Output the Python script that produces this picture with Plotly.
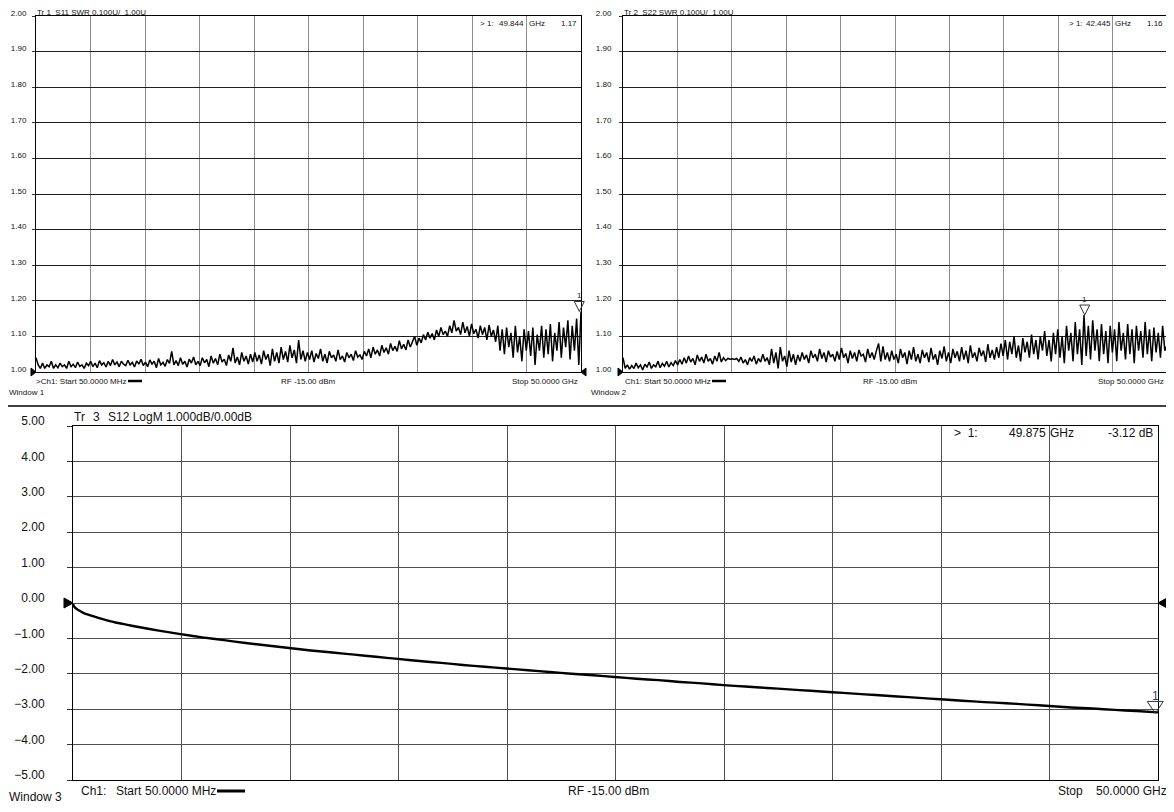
import plotly.graph_objects as go

W, H = 1174, 812          # browser window
OX, OY = 8, 8             # default page (body) margin in front of the figure
FW, FH = W - OX, H - 2 * OY   # figure fits inside the window without scrolling
START_GHZ, STOP_GHZ = 0.05, 50.0

# ---- data ----
s11_swr = [
    1.04, 1.02, 1.01, 1.025, 1.01, 1.02, 1.015, 1.03, 1.01, 1.02, 1.012, 1.025, 1.015, 1.02, 1.01, 1.03, 1.015, 1.022, 1.012, 1.028, 1.016, 1.02, 1.01, 1.025, 1.018,
    1.03, 1.015, 1.025, 1.012, 1.032, 1.02, 1.026, 1.014, 1.03, 1.018, 1.035, 1.02, 1.028, 1.015, 1.03, 1.022, 1.018, 1.033, 1.02, 1.027, 1.014, 1.031, 1.022, 1.036, 1.018,
    1.028, 1.015, 1.034, 1.022, 1.03, 1.012, 1.038, 1.02, 1.027, 1.016, 1.035, 1.024, 1.058, 1.02, 1.032, 1.018, 1.04, 1.022, 1.03, 1.014, 1.036, 1.025, 1.042, 1.02, 1.03,
    1.018, 1.04, 1.026, 1.035, 1.015, 1.045, 1.025, 1.038, 1.02, 1.05, 1.028, 1.036, 1.018, 1.048, 1.03, 1.068, 1.025, 1.042, 1.02, 1.055, 1.03, 1.045, 1.022, 1.05, 1.028,
    1.055, 1.03, 1.048, 1.022, 1.06, 1.035, 1.05, 1.018, 1.065, 1.03, 1.055, 1.025, 1.07, 1.035, 1.058, 1.028, 1.075, 1.04, 1.062, 1.025, 1.09, 1.035, 1.06, 1.03, 1.055,
    1.035, 1.06, 1.028, 1.052, 1.038, 1.065, 1.03, 1.05, 1.025, 1.058, 1.04, 1.048, 1.03, 1.062, 1.035, 1.045, 1.028, 1.055, 1.04, 1.05, 1.032, 1.06, 1.042, 1.048, 1.035,
    1.058, 1.045, 1.065, 1.04, 1.07, 1.05, 1.062, 1.045, 1.075, 1.055, 1.068, 1.05, 1.08, 1.06, 1.072, 1.058, 1.088, 1.065, 1.078, 1.062,
    1.09, 1.07, 1.085, 1.1, 1.075, 1.095, 1.082, 1.105, 1.09, 1.112, 1.095, 1.108, 1.09, 1.118, 1.1, 1.125, 1.105, 1.115, 1.1, 1.13,
    1.11, 1.145, 1.115, 1.125, 1.105, 1.14, 1.11, 1.128, 1.1, 1.135, 1.108, 1.12, 1.095, 1.13, 1.105, 1.125, 1.09, 1.132, 1.1, 1.118,
    1.085, 1.13, 1.06, 1.12, 1.05, 1.125, 1.07, 1.11, 1.04, 1.13, 1.055, 1.1, 1.03, 1.12, 1.06, 1.115, 1.045, 1.125, 1.02, 1.105,
    1.06, 1.13, 1.04, 1.12, 1.05, 1.135, 1.03, 1.11, 1.06, 1.14, 1.04, 1.125, 1.07, 1.145, 1.035, 1.13, 1.06, 1.15, 1.02, 1.17,
]

s22_swr = [
    1.04, 1.01, 1.02, 1.008, 1.018, 1.01, 1.025, 1.012, 1.02, 1.006, 1.022, 1.014, 1.028, 1.01, 1.02, 1.015, 1.03, 1.012, 1.024, 1.016, 1.03, 1.014, 1.026, 1.018, 1.032, 1.02,
    1.035, 1.022, 1.04, 1.025, 1.045, 1.028, 1.038, 1.02, 1.048, 1.03, 1.042, 1.025, 1.05, 1.03, 1.038, 1.022, 1.045, 1.03, 1.055, 1.028, 1.04, 1.032, 1.038,
    1.036, 1.037, 1.035, 1.038, 1.03, 1.042, 1.025, 1.035, 1.02, 1.04, 1.03, 1.045, 1.022, 1.038, 1.028, 1.05, 1.03, 1.04,
    1.02, 1.065, 1.025, 1.055, 1.01, 1.07, 1.03, 1.045, 1.015, 1.06, 1.028, 1.05, 1.02, 1.048,
    1.03, 1.055, 1.035, 1.048, 1.025, 1.06, 1.04, 1.05, 1.03, 1.065, 1.038, 1.055, 1.028, 1.06, 1.042, 1.05, 1.03, 1.058,
    1.035, 1.068, 1.04, 1.052, 1.025, 1.06, 1.038, 1.055, 1.03, 1.062, 1.045, 1.05, 1.028, 1.065, 1.04, 1.055, 1.035, 1.06,
    1.08, 1.03, 1.072, 1.035,
    1.055, 1.03, 1.06, 1.035, 1.05, 1.025, 1.065, 1.04, 1.055, 1.022, 1.06, 1.035, 1.07, 1.03, 1.05, 1.025, 1.062,
    1.04, 1.055, 1.028, 1.068, 1.035, 1.05, 1.02, 1.06, 1.038, 1.072, 1.03, 1.055, 1.025, 1.065, 1.04, 1.058, 1.03,
    1.07, 1.035, 1.06, 1.025, 1.075, 1.04, 1.055, 1.03, 1.068, 1.045, 1.06, 1.028, 1.078, 1.04, 1.062, 1.035, 1.07,
    1.04, 1.08, 1.045, 1.09, 1.035, 1.085, 1.05, 1.1, 1.04, 1.075, 1.03, 1.095, 1.055, 1.085, 1.04, 1.105, 1.05, 1.09, 1.035, 1.1, 1.06, 1.115, 1.045, 1.09, 1.03, 1.11,
    1.05, 1.12, 1.04, 1.1, 1.025, 1.13, 1.06, 1.11, 1.03, 1.14, 1.05, 1.12, 1.02, 1.16, 1.045, 1.13, 1.035, 1.145, 1.06, 1.12, 1.03, 1.135, 1.05, 1.115, 1.025,
    1.13, 1.055, 1.12, 1.03, 1.14, 1.06, 1.11, 1.035, 1.135, 1.05, 1.12, 1.025, 1.13, 1.06, 1.115, 1.04, 1.14, 1.05, 1.12, 1.03, 1.125, 1.055, 1.11, 1.04, 1.13, 1.06, 1.075,
]

s12_freq_ghz = [0.05, 0.1, 0.2, 0.35, 0.5, 0.75, 1.0, 1.5, 2.0, 2.5, 3.0, 4.0, 5.0, 6.0, 7.0, 8.0, 9.0,
                10, 11, 12, 13, 14, 15, 16, 17, 18, 19, 20, 21, 22, 23, 24, 25, 26, 27, 28, 29, 30,
                31, 32, 33, 34, 35, 36, 37, 38, 39, 40, 41, 42, 43, 44, 45, 46, 47, 48, 49, 50]
s12_db = [-0.02, -0.10, -0.16, -0.22, -0.27, -0.33, -0.38, -0.47, -0.55, -0.61, -0.67, -0.78, -0.88, -0.97, -1.05, -1.13, -1.20,
          -1.27, -1.34, -1.40, -1.46, -1.52, -1.58, -1.64, -1.69, -1.75, -1.80, -1.85, -1.90, -1.95, -2.00, -2.04, -2.09, -2.14, -2.18, -2.23, -2.27, -2.32,
          -2.36, -2.40, -2.44, -2.48, -2.52, -2.56, -2.60, -2.64, -2.68, -2.72, -2.76, -2.80, -2.83, -2.87, -2.91, -2.95, -2.98, -3.02, -3.05, -3.09]

swr_ticks = [1.0, 1.1, 1.2, 1.3, 1.4, 1.5, 1.6, 1.7, 1.8, 1.9, 2.0]
db_ticks = [-5, -4, -3, -2, -1, 0, 1, 2, 3, 4, 5]

marker1 = (49.844, 1.17)
marker2 = (42.445, 1.16)
marker3 = (49.875, -3.12)

REG = "Liberation Sans, Arial, sans-serif"
NB = "\u00a0"


def sweep(n):
    return [START_GHZ + k * (STOP_GHZ - START_GHZ) / (n - 1) for k in range(n)]


def px(x, y):
    """window pixel -> paper fraction"""
    return (x - OX) / FW, 1 - (y - OY) / FH


# panel geometry (window pixels)
P1 = dict(x0=36, x1=581, y0=16, y1=372)
P2 = dict(x0=623, x1=1167, y0=16, y1=372)
P3 = dict(x0=73, x1=1158, y0=426, y1=780)


def dom(p):
    xa, yb = px(p["x0"], p["y1"])
    xb, ya = px(p["x1"], p["y0"])
    return [xa, xb], [yb, ya]


def to_paper(p, yr, fx, vy):
    xd, yd = dom(p)
    xp = xd[0] + (fx - START_GHZ) / (STOP_GHZ - START_GHZ) * (xd[1] - xd[0])
    yp = yd[0] + (vy - yr[0]) / (yr[1] - yr[0]) * (yd[1] - yd[0])
    return xp, yp


xgrid = [START_GHZ + k * (STOP_GHZ - START_GHZ) / 10 for k in range(11)]

fig = go.Figure()
fig.add_trace(go.Scatter(x=sweep(len(s11_swr)), y=s11_swr, mode="lines",
                         line=dict(color="#000000", width=1.5), xaxis="x", yaxis="y",
                         showlegend=False, hoverinfo="skip"))
fig.add_trace(go.Scatter(x=sweep(len(s22_swr)), y=s22_swr, mode="lines",
                         line=dict(color="#000000", width=1.5), xaxis="x2", yaxis="y2",
                         showlegend=False, hoverinfo="skip"))
fig.add_trace(go.Scatter(x=s12_freq_ghz, y=s12_db, mode="lines",
                         line=dict(color="#000000", width=2.4, shape="spline", smoothing=0.6),
                         xaxis="x3", yaxis="y3", showlegend=False, hoverinfo="skip"))


def xax(p, grid_color):
    xd, _ = dom(p)
    return dict(domain=xd, range=[START_GHZ, STOP_GHZ], tickvals=xgrid, showticklabels=False,
                ticks="", showgrid=True, gridcolor=grid_color, gridwidth=1, zeroline=False,
                showline=True, mirror=True, linecolor="#000000", linewidth=1, fixedrange=True,
                automargin=False)


def yax(p, rng, ticks, grid_color, font, ticklen, standoff, shift, anchor):
    _, yd = dom(p)
    return dict(domain=yd, range=rng, tickvals=ticks, tickformat=".2f", ticks="outside",
                ticklen=ticklen, tickcolor="#333333", tickwidth=1, showgrid=True,
                gridcolor=grid_color, gridwidth=1, zeroline=False, showline=True, mirror=True,
                linecolor="#000000", linewidth=1, tickfont=font, ticklabelstandoff=standoff,
                ticklabelshift=shift, ticklabeloverflow="allow", anchor=anchor,
                fixedrange=True, automargin=False)


small = dict(family=REG, size=8, color="#111111")
big = dict(family=REG, size=12, color="#111111")

fig.update_layout(
    width=FW, height=FH, margin=dict(l=0, r=0, t=0, b=0, pad=0, autoexpand=False),
    paper_bgcolor="white", plot_bgcolor="white",
    xaxis=dict(xax(P1, "#8c8c8c"), anchor="y"),
    yaxis=yax(P1, [1.0, 2.0], swr_ticks, "#1e1e1e", small, 3, 4, -3, "x"),
    xaxis2=dict(xax(P2, "#8c8c8c"), anchor="y2"),
    yaxis2=yax(P2, [1.0, 2.0], swr_ticks, "#1e1e1e", small, 3, 6, -3, "x2"),
    xaxis3=dict(xax(P3, "#505050"), anchor="y3"),
    yaxis3=yax(P3, [-5, 5], db_ticks, "#505050", big, 5, 20, -5, "x3"),
)

ann = []


def text(x, y, s, anchor="left", font=small):
    xp, yp = px(x, y)
    ann.append(dict(x=max(xp, 0), y=yp, xref="paper", yref="paper", text=s, showarrow=False,
                    xanchor=anchor, yanchor="middle", font=font, borderpad=0))


# panel 1
text(36, 12, f"Tr 1{NB} S11 SWR 0.100U/{NB} 1.00U")
text(479, 24, "&gt; 1:")
text(525, 24, "49.844", "right")
text(528, 24, "GHz")
text(578, 24, "1.17", "right")
text(35, 381, "&gt;Ch1: Start 50.0000 MHz")
text(308, 381, "RF -15.00 dBm", "center")
text(579, 381, "Stop 50.0000 GHz", "right")
text(2, 392, "Window 1")
# panel 2
text(623, 12, f"Tr 2{NB} S22 SWR 0.100U/{NB} 1.00U")
text(1068, 24, "&gt; 1:")
text(1112, 24, "42.445", "right")
text(1114, 24, "GHz")
text(1164, 24, "1.16", "right")
text(624, 381, "Ch1: Start 50.0000 MHz")
text(890, 381, "RF -15.00 dBm", "center")
text(1165, 381, "Stop 50.0000 GHz", "right")
text(590, 392, "Window 2")
# panel 3
text(73, 417, "Tr", font=big)
text(92, 417, "3", font=big)
text(107, 417, "S12 LogM 1.000dB/", font=big)
text(213, 417, "0.00dB", font=big)
text(953, 433, f"&gt;{NB}{NB}1:", font=big)
text(1047, 433, "49.875", "right", font=big)
text(1049, 433, "GHz", font=big)
text(1154, 433, "-3.12 dB", "right", font=big)
text(80, 791, "Ch1:", font=big)
text(115, 791, "Start", font=big)
text(144, 791, "50.0000 MHz", font=big)
text(567, 791, "RF -15.00 dBm", font=big)
text(1057, 791, "Stop", font=big)
text(1168, 791, "50.0000 GHz", "right", font=big)
text(5, 797, "Window 3", font=big)

shapes = []
# separator line between the upper windows and window 3
ys = px(0, 406)[1]
shapes.append(dict(type="line", xref="paper", yref="paper", x0=0, x1=1, y0=ys, y1=ys,
                   line=dict(color="#000000", width=1.5)))
# short trace-colour dashes after the "Start" labels
for (a, b, y, w) in [(128, 142, 381, 2.5), (712, 726, 381, 2.5), (217, 245, 791, 3)]:
    xa, yy = px(a, y)
    xb, _ = px(b, y)
    shapes.append(dict(type="line", xref="paper", yref="paper", x0=xa, x1=xb,
                       y0=yy, y1=yy, line=dict(color="#000000", width=w)))


def pix_path(xp, yp, path, fill="#000000", line="#000000", lw=1):
    shapes.append(dict(type="path", xref="paper", yref="paper", xsizemode="pixel", ysizemode="pixel",
                       xanchor=xp, yanchor=yp, path=path, fillcolor=fill,
                       line=dict(color=line, width=lw)))


# reference-level arrows
for p, rng, ref, s in [(P1, [1.0, 2.0], 1.0, 5), (P2, [1.0, 2.0], 1.0, 5), (P3, [-5, 5], 0.0, 9)]:
    xl, yl = to_paper(p, rng, START_GHZ, ref)
    xr, _ = to_paper(p, rng, STOP_GHZ, ref)
    h = 4 if s == 5 else 5
    pix_path(xl, yl, f"M {-s},{-h} L 0,0 L {-s},{h} Z")
    pix_path(xr, yl, f"M {s},{-h} L 0,0 L {s},{h} Z")

# marker triangles and labels
for p, rng, (mf, mv), w, hgt, f, lab_col, lab_shift in [
        (P1, [1.0, 2.0], marker1, 5, 10, small, "#222222", 16),
        (P2, [1.0, 2.0], marker2, 5, 10, small, "#222222", 16),
        (P3, [-5, 5], marker3, 8, 12, big, "#1f3f8f", 17)]:
    xp, yp = to_paper(p, rng, mf, mv)
    pix_path(xp, yp, f"M 0,0 L {-w},{hgt} L {w},{hgt} Z", fill="rgba(0,0,0,0)", line="#333333", lw=1)
    ann.append(dict(x=xp, y=yp, xref="paper", yref="paper", text="1", showarrow=False,
                    xanchor="center", yanchor="middle", yshift=lab_shift,
                    font=dict(family=f["family"], size=f["size"], color=lab_col)))

fig.update_layout(annotations=ann, shapes=shapes)
fig.write_html("out.html")
